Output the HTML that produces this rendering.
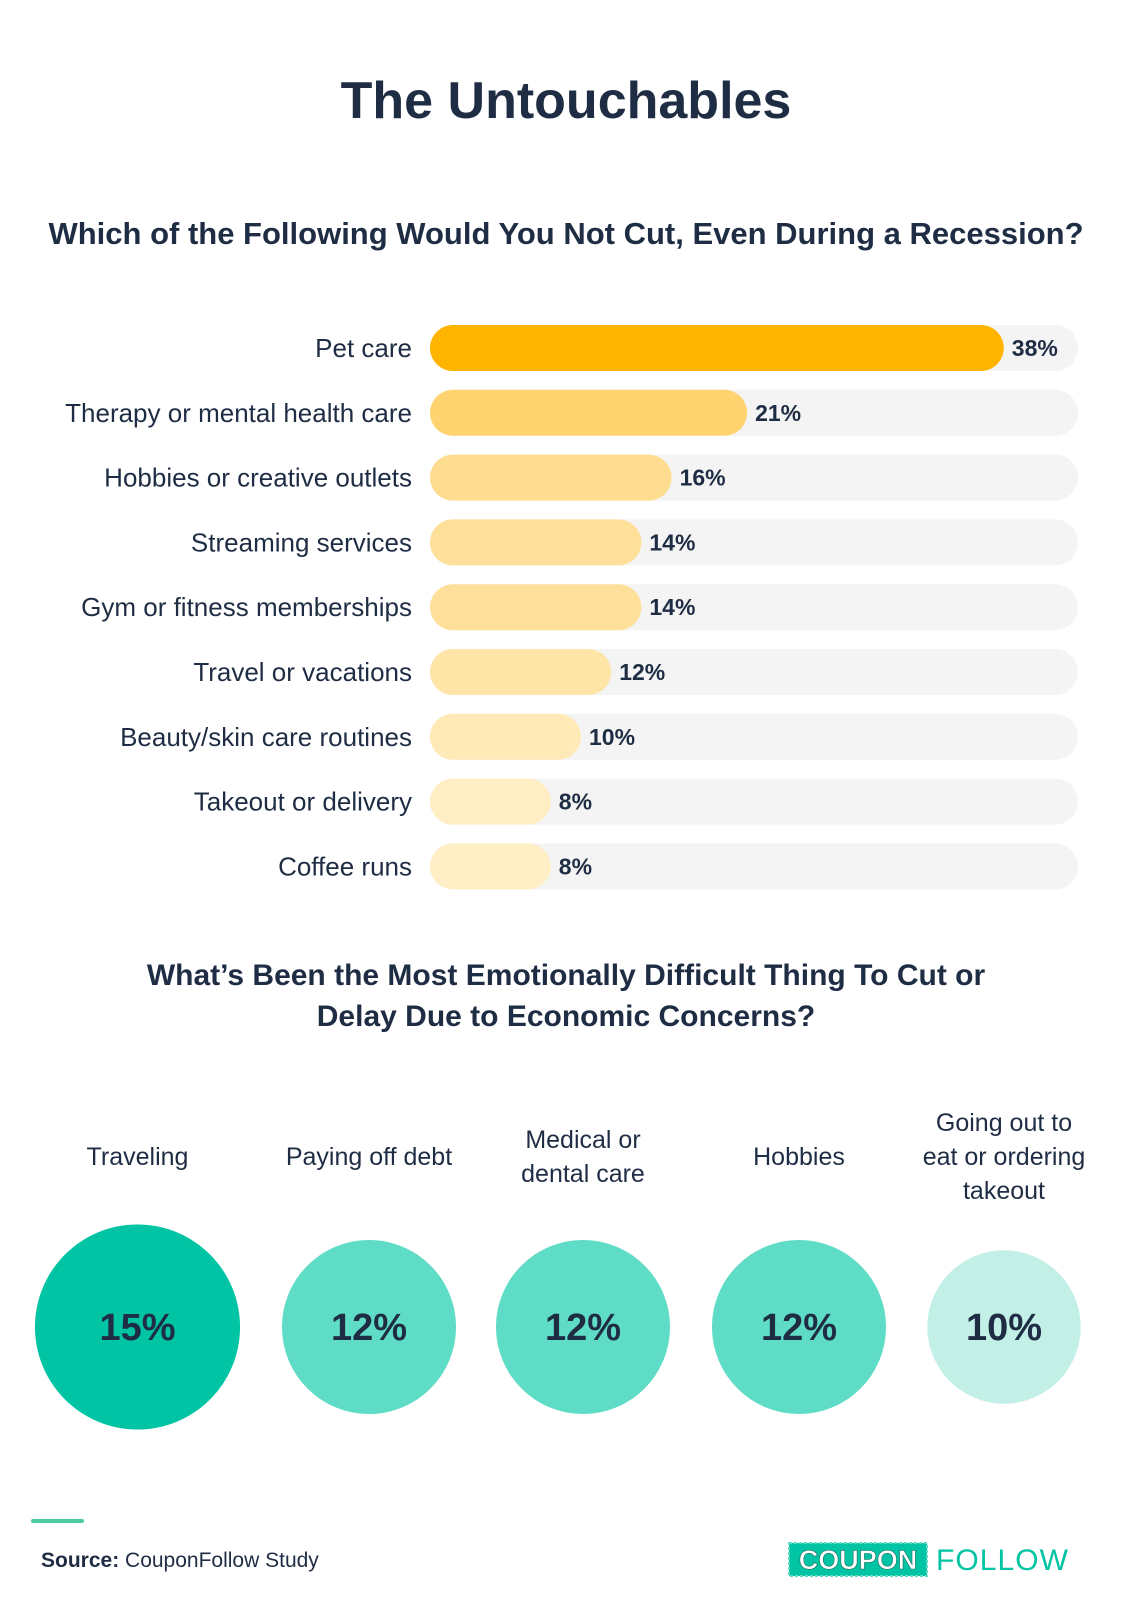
<!DOCTYPE html>
<html><head><meta charset="utf-8">
<style>
body{margin:0;width:1132px;height:1600px;background:#fff;overflow:hidden;font-family:"Liberation Sans",sans-serif;color:#1f2d44}
svg{display:block}
</style></head>
<body>
<svg id="chart" width="1132" height="1600" viewBox="0 0 1132 1600">
<text x="566" y="118" text-anchor="middle" font-size="52" font-weight="bold" fill="#1f2d44">The Untouchables</text>
<text x="566" y="244" text-anchor="middle" font-size="31" font-weight="bold" fill="#1f2d44">Which of the Following Would You Not Cut, Even During a Recession?</text>
<g id="bars"></g>
<text x="566" y="985" text-anchor="middle" font-size="30" font-weight="bold" fill="#1f2d44">What’s Been the Most Emotionally Difficult Thing To Cut or</text>
<text x="566" y="1026" text-anchor="middle" font-size="30" font-weight="bold" fill="#1f2d44">Delay Due to Economic Concerns?</text>
<g id="circles"></g>
<rect x="31" y="1519" width="53" height="4" rx="2" fill="#4ccaa0"/>
<text x="41" y="1567" font-size="21" fill="#1f2d44"><tspan font-weight="bold">Source:</tspan> CouponFollow Study</text>
<g>
<rect x="789" y="1543" width="138" height="33" fill="#00c4a3" stroke="#5edcc5" stroke-dasharray="3 2" stroke-width="2"/>
<text x="858" y="1569" text-anchor="middle" font-size="27" font-weight="bold" fill="#fff" stroke="#1f6e5e" stroke-width="0.6">COUPON</text>
<text x="936" y="1570" font-size="30" fill="#00c4a3" textLength="132">FOLLOW</text>
</g>
</svg>
<script>
const barCategories=["Pet care","Therapy or mental health care","Hobbies or creative outlets","Streaming services","Gym or fitness memberships","Travel or vacations","Beauty/skin care routines","Takeout or delivery","Coffee runs"];
const barValues=[38,21,16,14,14,12,10,8,8];
const barColors=["#ffb400","#ffd470","#ffdd90","#ffe09a","#ffe09a","#ffe5a8","#ffe9b6","#ffedc3","#ffeec6"];
const circleCategories=[["Traveling"],["Paying off debt"],["Medical or","dental care"],["Hobbies"],["Going out to","eat or ordering","takeout"]];
const circleValues=[15,12,12,12,10];
const circleColors=["#00c4a3","#5edcc5","#5edcc5","#5edcc5","#c2f0e6"];
const NS="http://www.w3.org/2000/svg";
function mk(t,a,p){const e=document.createElementNS(NS,t);for(const k in a)e.setAttribute(k,a[k]);p.appendChild(e);return e;}
const x0=430,kx=15.1,trackEnd=1078,rowY=i=>348+i*64.8,bh=46;
const xs=v=>x0+v*kx;
const gb=document.getElementById('bars');
barCategories.forEach((c,i)=>{
 const cy=rowY(i);
 const tr=mk('rect',{x:x0,y:cy-bh/2,width:trackEnd-x0,height:bh,rx:23,fill:'#f4f4f4'},gb);
 
 
 const b=mk('rect',{x:x0,y:cy-bh/2,width:xs(barValues[i])-x0,height:bh,rx:23,fill:barColors[i]},gb);
 
 
 const l=mk('text',{x:412,y:cy+9,'text-anchor':'end','font-size':26,fill:'#1f2d44'},gb);l.textContent=c;
 
 
 const v=mk('text',{x:xs(barValues[i])+8,y:cy+8,'font-size':23,'font-weight':'bold',fill:'#1f2d44'},gb);v.textContent=barValues[i]+'%';
 
 
});
const gc=document.getElementById('circles');
const cxs=[137.5,369,583,799,1004];
const rs=v=>25+5.17*v;
circleCategories.forEach((lines,i)=>{
 const cx=cxs[i];
 const c=mk('circle',{cx:cx,cy:1327,r:rs(circleValues[i]),fill:circleColors[i]},gc);
 
 
 const t=mk('text',{x:cx,y:1340,'text-anchor':'middle','font-size':38,'font-weight':'bold',fill:'#1f2d44'},gc);t.textContent=circleValues[i]+'%';
 
 
 const n=lines.length,start=1157-(n-1)*17;
 lines.forEach((s,j)=>{
  const l=mk('text',{x:cx,y:start+j*34+8,'text-anchor':'middle','font-size':25,fill:'#1f2d44'},gc);l.textContent=s;
  
  
 });
});
</script>
</body></html>
